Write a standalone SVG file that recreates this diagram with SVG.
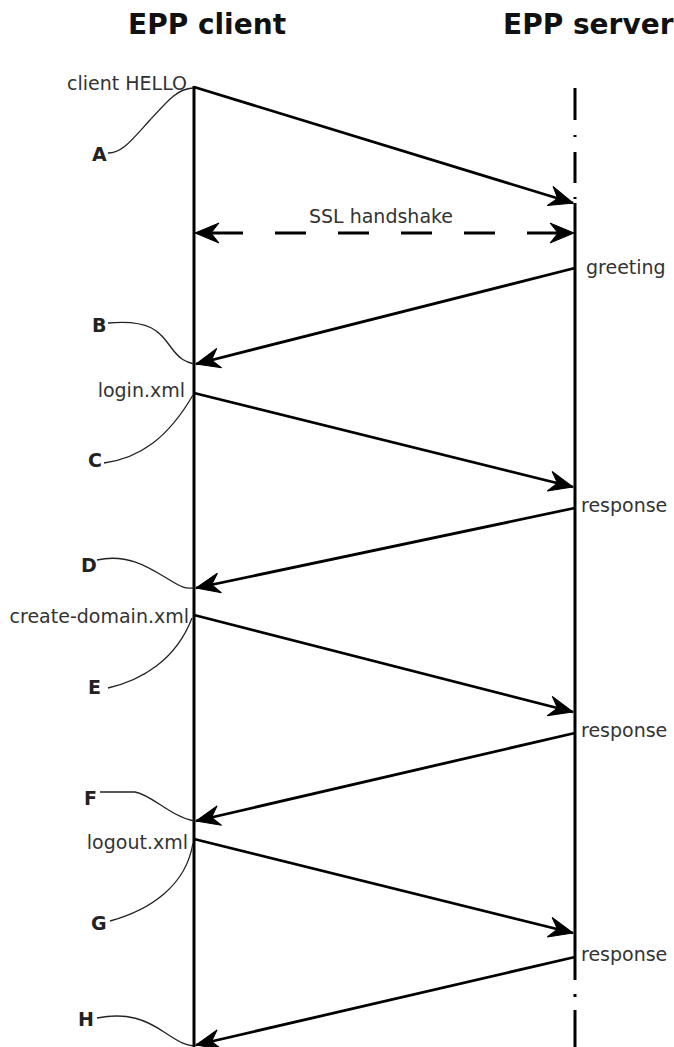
<svg xmlns="http://www.w3.org/2000/svg" width="674" height="1047" viewBox="0 0 674 1047">
  <style>
    .title { font-family: "DejaVu Sans", sans-serif; font-weight: bold; font-size: 28px; fill: #111; }
    .label { font-family: "DejaVu Sans", sans-serif; font-size: 19px; fill: #333; }
    .tag { font-family: "DejaVu Sans", sans-serif; font-weight: bold; font-size: 19px; fill: #222; }
    .life { stroke: #000; stroke-width: 3; fill: none; }
    .msg { stroke: #000; stroke-width: 2.8; fill: none; marker-end: url(#head); }
    .lead { stroke: #222; stroke-width: 1.3; fill: none; }
  </style>
  <defs>
    <marker id="head" markerUnits="userSpaceOnUse" viewBox="-26 -13 28 26" refX="0" refY="0" markerWidth="28" markerHeight="26" orient="auto-start-reverse">
      <path d="M0,0 L-24,-10 L-16,0 L-24,10 Z" fill="#000" stroke="#000" stroke-width="1" stroke-linejoin="miter"/>
    </marker>
  </defs>
  <rect width="674" height="1047" fill="#fff"/>

  <g id="client">
    <text class="title" x="128" y="34">EPP client</text>
    <line class="life" x1="194" y1="86" x2="194" y2="1047"/>
  </g>

  <g id="server">
    <text class="title" x="503" y="34">EPP server</text>
    <path class="life" d="M575,88 V120 M575,135 V137 M575,152 V183 M575,197 V199"/>
    <line class="life" x1="575" y1="203" x2="575" y2="980"/>
    <path class="life" d="M575,994 V997 M575,1010 V1047"/>
  </g>

  <g id="connectors">
    <line class="msg" x1="194" y1="87" x2="573" y2="203"/>
    <line stroke="#000" stroke-width="2.8" stroke-dasharray="31 32" stroke-dashoffset="46" x1="195" y1="233" x2="574" y2="233" marker-start="url(#head)" marker-end="url(#head)"/>
    <line class="msg" x1="575" y1="268" x2="196" y2="364"/>
    <line class="msg" x1="194" y1="393" x2="573" y2="487"/>
    <line class="msg" x1="575" y1="508" x2="196" y2="588"/>
    <line class="msg" x1="194" y1="615" x2="573" y2="712"/>
    <line class="msg" x1="575" y1="733" x2="196" y2="821"/>
    <line class="msg" x1="194" y1="839" x2="573" y2="933"/>
    <line class="msg" x1="575" y1="957" x2="196" y2="1045"/>

    <path class="lead" d="M108,153 C122,153 130,142 150,120 S178,89 193,88"/>
    <path class="lead" d="M108,323 C150,319 160,332 170,346 S186,362 194,364"/>
    <path class="lead" d="M104,463 C140,458 168,438 193,395"/>
    <path class="lead" d="M97,560 C128,553 150,568 168,579 S186,588 194,588"/>
    <path class="lead" d="M108,688 C142,680 176,660 192,618"/>
    <path class="lead" d="M100,792 L135,792 C152,795 170,816 194,821"/>
    <path class="lead" d="M110,921 C150,910 186,886 193,843"/>
    <path class="lead" d="M97,1018 C128,1012 146,1020 164,1032 S186,1045 194,1046"/>
  </g>

  <g id="labels">
    <text class="label" x="187" y="90" text-anchor="end">client HELLO</text>
    <text class="label" x="381" y="223" text-anchor="middle">SSL handshake</text>
    <text class="label" x="586" y="274">greeting</text>
    <text class="label" x="185" y="397" text-anchor="end">login.xml</text>
    <text class="label" x="581" y="512">response</text>
    <text class="label" x="189" y="623" text-anchor="end">create-domain.xml</text>
    <text class="label" x="581" y="737">response</text>
    <text class="label" x="188" y="849" text-anchor="end">logout.xml</text>
    <text class="label" x="581" y="961">response</text>
  </g>

  <g id="tags">
    <text class="tag" x="92" y="161">A</text>
    <text class="tag" x="92" y="332">B</text>
    <text class="tag" x="88" y="467">C</text>
    <text class="tag" x="81" y="572">D</text>
    <text class="tag" x="88" y="694">E</text>
    <text class="tag" x="84" y="805">F</text>
    <text class="tag" x="91" y="930">G</text>
    <text class="tag" x="78" y="1026">H</text>
  </g>
</svg>
